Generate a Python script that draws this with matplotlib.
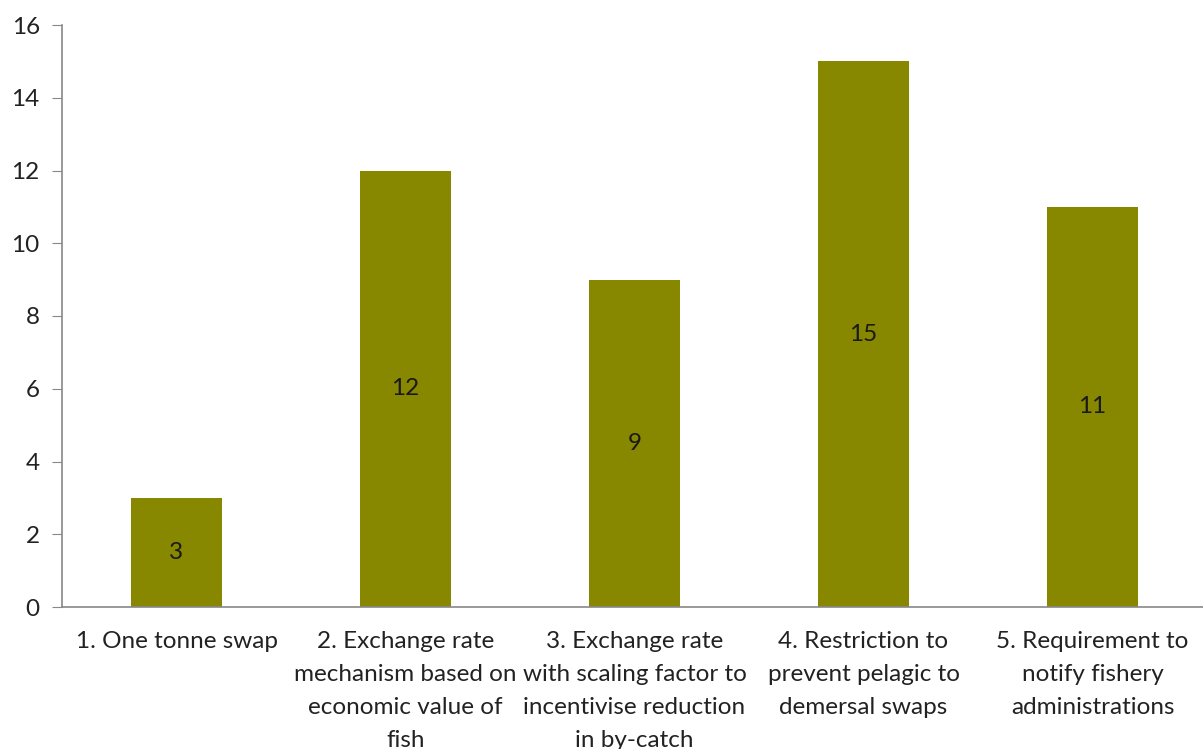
import matplotlib
matplotlib.use('Agg')
import matplotlib.pyplot as plt
from matplotlib import font_manager

categories = ['1. One tonne swap',
              '2. Exchange rate\nmechanism based on\neconomic value of\nfish',
              '3. Exchange rate\nwith scaling factor to\nincentivise reduction\nin by-catch',
              '4. Restriction to\nprevent pelagic to\ndemersal swaps',
              '5. Requirement to\nnotify fishery\nadministrations']
values = [3, 12, 9, 15, 11]
yticks = [0, 2, 4, 6, 8, 10, 12, 14, 16]

names = {f.name for f in font_manager.fontManager.ttflist}
fam = 'Liberation Sans Narrow' if 'Liberation Sans Narrow' in names else 'Lato'
plt.rcParams['font.family'] = [fam, 'DejaVu Sans']

fig = plt.figure(figsize=(12.03, 7.49), dpi=100)
ax = fig.add_axes([62/1203, 1-607/749, 1145/1203, (607-25)/749])

x = range(len(values))
bars = ax.bar(x, values, width=0.4, color='#878700')
for i, v in enumerate(values):
    ax.text(i, v/2, str(v), ha='center', va='center', fontsize=17.5, color='#1a1a1a')

ax.set_xlim(-0.5, 4.5)
ax.set_ylim(0, 16)
ax.set_yticks(yticks)
ax.set_xticks(list(x))
ax.set_xticklabels(categories, fontsize=17.5, color='#222222', linespacing=1.72)
ax.tick_params(axis='x', length=0, pad=17)
ax.tick_params(axis='y', length=7, color='#888888', labelsize=17.5, labelcolor='#222222', pad=9)
for s in ['top', 'right']:
    ax.spines[s].set_visible(False)
for s in ['left', 'bottom']:
    ax.spines[s].set_color('#888888')
    ax.spines[s].set_linewidth(1.2)

fig.savefig('out.png', dpi=100)
